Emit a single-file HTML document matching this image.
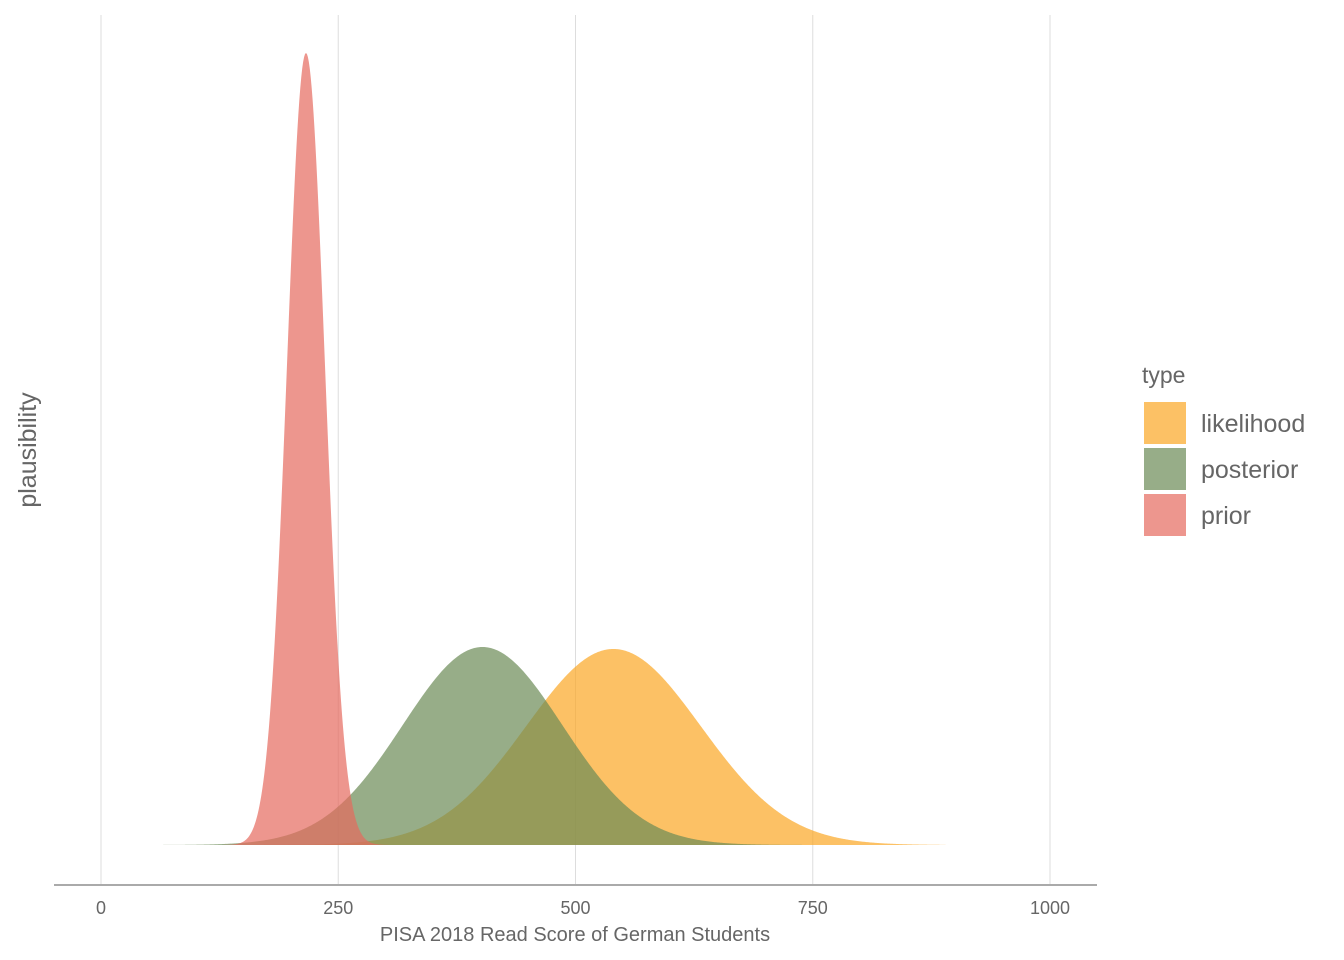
<!DOCTYPE html>
<html><head><meta charset="utf-8"><style>
body{margin:0;background:#fff;}
svg{display:block;font-family:"Liberation Sans",sans-serif;}
</style></head><body>
<svg id="chart" width="1344" height="960">
<g id="grid"></g>
<g id="areas"></g>
<line x1="54" x2="1097" y1="885" y2="885" stroke="#aaa" stroke-width="2"/>
<g id="ticks"></g>
<text x="575" y="941" font-size="20" fill="#666" text-anchor="middle">PISA 2018 Read Score of German Students</text>
<text transform="translate(36,450) rotate(-90)" font-size="25" fill="#666" text-anchor="middle">plausibility</text>
<g>
<text x="1142" y="383" font-size="23" fill="#666">type</text>
<g id="legend"></g>
</g>
</svg>
<script>
const ticks=[0,250,500,750,1000];
const series=["likelihood","posterior","prior"];
const means=[540,402,216];
const sds=[92,84,20];
const peaks=[0.99,1.0,4.0];
const colors=["#fba624","#6b8a55","#e6695e"];
const xmin=45,xmax=890;
const NS="http://www.w3.org/2000/svg";
const sx=v=>101+v*(1050-101)/1000;
const sy=v=>845-v*(845-647);
const grid=document.getElementById('grid'),tk=document.getElementById('ticks'),ar=document.getElementById('areas'),lg=document.getElementById('legend');
ticks.forEach(t=>{
 const l=document.createElementNS(NS,'line');
 l.setAttribute('x1',sx(t));l.setAttribute('x2',sx(t));l.setAttribute('y1',15);l.setAttribute('y2',884);
 l.setAttribute('stroke','#ddd');l.setAttribute('stroke-width','1');
 
 
 grid.appendChild(l);
 const tx=document.createElementNS(NS,'text');
 tx.setAttribute('x',sx(t));tx.setAttribute('y',914);tx.setAttribute('font-size','18');tx.setAttribute('fill','#666');tx.setAttribute('text-anchor','middle');
 tx.textContent=t;
 
 
 tk.appendChild(tx);
});
series.forEach((s,i)=>{
 let d='M'+sx(xmin)+','+sy(0);
 for(let x=xmin;x<=xmax;x+=1){const z=(x-means[i])/sds[i];d+=' L'+sx(x).toFixed(2)+','+sy(peaks[i]*Math.exp(-0.5*z*z)).toFixed(2);}
 d+=' L'+sx(xmax)+','+sy(0)+' Z';
 const p=document.createElementNS(NS,'path');
 p.setAttribute('d',d);p.setAttribute('fill',colors[i]);p.setAttribute('fill-opacity','0.7');
 
 
 ar.appendChild(p);
 const r=document.createElementNS(NS,'rect');
 r.setAttribute('x',1144);r.setAttribute('y',402+i*46);r.setAttribute('width',42);r.setAttribute('height',42);
 r.setAttribute('fill',colors[i]);r.setAttribute('fill-opacity','0.7');
 
 
 lg.appendChild(r);
 const t=document.createElementNS(NS,'text');
 t.setAttribute('x',1201);t.setAttribute('y',432+i*46);t.setAttribute('font-size','25');t.setAttribute('fill','#666');
 t.textContent=s;
 
 
 lg.appendChild(t);
});
</script>
</body></html>
